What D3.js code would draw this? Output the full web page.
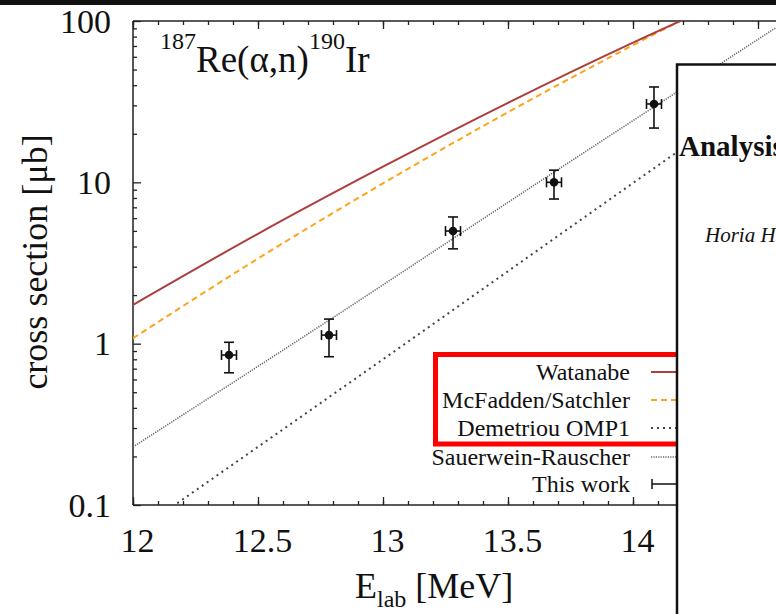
<!DOCTYPE html>
<meta charset="utf-8">
<style>
body {margin: 0; background: #fff;}
text {font-family: "Liberation Serif", "Times New Roman", serif; fill: #111;}
.frame {fill: none; stroke: #222; stroke-width: 1.5;}
.tick line {stroke: #222; stroke-width: 1.3;}
.domain {display: none;}
</style>
<body>
<script src="https://d3js.org/d3.v7.min.js"></script>
<div id="chart"></div>
</body>
<script>
// values
var xTicks = [12, 12.5, 13, 13.5, 14, 14.5, 15];
var xTickLabels = ["12", "12.5", "13", "13.5", "14", "", ""];   // the last ones sit under the window
var yTicks = [0.1, 1, 10, 100];
var yTickLabels = ["0.1", "1", "10", "100"];

var watanabeE = [12.0, 12.5, 13.0, 13.5, 14.0, 14.5];
var watanabeS = [1.74, 4.8, 12.5, 31.1, 73.4, 164];
var mcfaddenE = [12.0, 12.5, 13.0, 13.5, 14.0, 14.5];
var mcfaddenS = [1.08, 3.37, 9.85, 27.2, 70.8, 174];
var demetriouE = [12.0, 13.0, 14.0, 14.6];
var demetriouS = [0.066, 0.8, 9.9, 44.5];
var sauerweinE = [12.0, 12.8, 13.6, 14.6];
var sauerweinS = [0.229, 1.45, 9.5, 97];

// this work: energy, cross section, lower, upper
var dataE   = [12.384, 12.784, 13.28, 13.684, 14.084];
var dataS   = [0.85, 1.13, 4.99, 10.0, 30.6];
var dataLo  = [0.66, 0.83, 3.87, 7.88, 21.7];
var dataHi  = [1.02, 1.42, 6.1, 11.9, 39.0];
var dataDE  = [0.03, 0.03, 0.03, 0.03, 0.03];

var legendNames = ["Watanabe", "McFadden/Satchler", "Demetriou OMP1", "Sauerwein-Rauscher", "This work"];

// setup
var W = 776, H = 614;
var pLeft = 133, pTop = 21, pBottom = 505;
var x = d3.scaleLinear().domain([12, 15]).range([pLeft, pLeft + 750]);
var y = d3.scaleLog().domain([0.1, 100]).range([pBottom, pTop]);
var serif = '"Liberation Serif", "Times New Roman", serif';

var svg = d3.select("#chart").append("svg")
    .attr("width", W).attr("height", H);

svg.append("clipPath").attr("id", "plotclip")
  .append("rect").attr("x", pLeft).attr("y", pTop)
    .attr("width", 750).attr("height", pBottom - pTop);

// axes (ticks pointing inwards)
var xMinor = d3.range(12, 15.001, 0.1).map(function(d) { return +d.toFixed(1); });
var yMinor = [];
[0.1, 1, 10].forEach(function(dec) {
  for (var k = 2; k <= 9; k++) yMinor.push(dec * k);
});

svg.append("g").attr("transform", "translate(0," + pBottom + ")")
    .call(d3.axisBottom(x).tickValues(xMinor).tickSize(-4).tickFormat(""));
var xAx = svg.append("g").attr("transform", "translate(0," + pBottom + ")")
    .call(d3.axisBottom(x).tickValues(xTicks).tickSize(-8).tickPadding(0)
      .tickFormat(function(d, i) { return xTickLabels[i]; }))
    .attr("font-family", serif).attr("font-size", 34);
xAx.selectAll("text")
    .attr("y", 47).attr("dy", 0).attr("dx", 4).attr("fill", "#111");

svg.append("g").attr("transform", "translate(0," + pTop + ")")
    .call(d3.axisTop(x).tickValues(xMinor).tickSize(-4).tickFormat(""));
svg.append("g").attr("transform", "translate(0," + pTop + ")")
    .call(d3.axisTop(x).tickValues(xTicks).tickSize(-8).tickFormat(""));

svg.append("g").attr("transform", "translate(" + pLeft + ",0)")
    .call(d3.axisLeft(y).tickValues(yMinor).tickSize(-4).tickFormat(""));
var yAx = svg.append("g").attr("transform", "translate(" + pLeft + ",0)")
    .call(d3.axisLeft(y).tickValues(yTicks).tickSize(-8).tickPadding(22)
      .tickFormat(function(d, i) { return yTickLabels[i]; }))
    .attr("font-family", serif).attr("font-size", 34);
yAx.selectAll("text").attr("dy", 11).attr("fill", "#111");

// frame
svg.append("line").attr("class", "frame").attr("x1", pLeft).attr("x2", W).attr("y1", pTop).attr("y2", pTop);
svg.append("line").attr("class", "frame").attr("x1", pLeft).attr("x2", W).attr("y1", pBottom).attr("y2", pBottom);
svg.append("line").attr("class", "frame").attr("x1", pLeft).attr("x2", pLeft).attr("y1", pTop).attr("y2", pBottom);

// curves
var line = d3.line()
    .curve(d3.curveMonotoneX)
    .x(function(d) { return x(d[0]); })
    .y(function(d) { return y(d[1]); });
var plot = svg.append("g").attr("clip-path", "url(#plotclip)");

function curve(E, S, color, width, dash) {
  plot.append("path")
    .datum(d3.zip(E, S))
    .attr("d", line)
    .attr("fill", "none")
    .attr("stroke", color)
    .attr("stroke-width", width)
    .attr("stroke-dasharray", dash);
}
curve(sauerweinE, sauerweinS, "#666", 1.6, "1.2,1.2");
curve(demetriouE, demetriouS, "#444", 2, "2,4");
curve(mcfaddenE, mcfaddenS, "#ffa31a", 2, "6,4");
curve(watanabeE, watanabeS, "#ad3e3e", 2, null);

// data points with error bars
var pts = plot.selectAll(".pt").data(dataE).enter().append("g").attr("class", "pt");
pts.append("line")
    .attr("x1", function(d) { return x(d); }).attr("x2", function(d) { return x(d); })
    .attr("y1", function(d, i) { return y(dataLo[i]); })
    .attr("y2", function(d, i) { return y(dataHi[i]); });
pts.append("line")
    .attr("x1", function(d) { return x(d) - 5; }).attr("x2", function(d) { return x(d) + 5; })
    .attr("y1", function(d, i) { return y(dataLo[i]); })
    .attr("y2", function(d, i) { return y(dataLo[i]); });
pts.append("line")
    .attr("x1", function(d) { return x(d) - 5; }).attr("x2", function(d) { return x(d) + 5; })
    .attr("y1", function(d, i) { return y(dataHi[i]); })
    .attr("y2", function(d, i) { return y(dataHi[i]); });
pts.append("line")
    .attr("x1", function(d, i) { return x(d - dataDE[i]); })
    .attr("x2", function(d, i) { return x(d + dataDE[i]); })
    .attr("y1", function(d, i) { return y(dataS[i]); })
    .attr("y2", function(d, i) { return y(dataS[i]); });
[-1, 1].forEach(function(sgn) {
  pts.append("line")
    .attr("x1", function(d, i) { return x(d + sgn * dataDE[i]); })
    .attr("x2", function(d, i) { return x(d + sgn * dataDE[i]); })
    .attr("y1", function(d, i) { return y(dataS[i]) - 5; })
    .attr("y2", function(d, i) { return y(dataS[i]) + 5; });
});
pts.selectAll("line").attr("stroke", "#111").attr("stroke-width", 1.6);
pts.append("circle")
    .attr("cx", function(d) { return x(d); })
    .attr("cy", function(d, i) { return y(dataS[i]); })
    .attr("r", 4.3).attr("fill", "#111");

// title
var title = svg.append("text").attr("x", 160).attr("y", 72).style("font-size", "37px");
title.append("tspan").style("font-size", "24px").attr("dy", -23).text("187");
title.append("tspan").attr("dy", 23).text("Re(α,n)");
title.append("tspan").style("font-size", "24px").attr("dy", -23).text("190");
title.append("tspan").attr("dy", 23).text("Ir");

// axis titles
var xt = svg.append("text").attr("x", 355).attr("y", 598).style("font-size", "36px");
xt.append("tspan").text("E");
xt.append("tspan").style("font-size", "24px").attr("dy", 9).text("lab");
xt.append("tspan").attr("dy", -9).text(" [MeV]");

svg.append("text")
    .attr("transform", "translate(47,262) rotate(-90)")
    .attr("text-anchor", "middle")
    .style("font-size", "36px")
    .text("cross section [μb]");

// legend
var legY = [372, 400, 428, 457, 484];
var legStyles = [
  {c: "#ad3e3e", w: 2, d: null},
  {c: "#ffa31a", w: 2, d: "6,4"},
  {c: "#444", w: 2, d: "2,4"},
  {c: "#666", w: 1.6, d: "1.2,1.2"}
];
var leg = svg.append("g");
legendNames.forEach(function(name, i) {
  leg.append("text")
    .attr("x", 630).attr("y", legY[i] + 8)
    .attr("text-anchor", "end")
    .style("font-size", "24px")
    .text(name);
  if (i < 4) {
    leg.append("line")
      .attr("x1", 651).attr("x2", 700)
      .attr("y1", legY[i]).attr("y2", legY[i])
      .attr("stroke", legStyles[i].c).attr("stroke-width", legStyles[i].w)
      .attr("stroke-dasharray", legStyles[i].d);
  } else {
    leg.append("line").attr("x1", 652).attr("x2", 700)
      .attr("y1", legY[i]).attr("y2", legY[i]).attr("stroke", "#111").attr("stroke-width", 1.5);
    leg.append("line").attr("x1", 652).attr("x2", 652)
      .attr("y1", legY[i] - 5).attr("y2", legY[i] + 5).attr("stroke", "#111").attr("stroke-width", 1.5);
  }
});

// red highlight box
svg.append("rect")
    .attr("x", 435.5).attr("y", 354.5).attr("width", 300).attr("height", 89.5)
    .attr("fill", "none").attr("stroke", "#ff0000").attr("stroke-width", 5);

// overlapping document window
svg.append("rect")
    .attr("x", 677).attr("y", 64.5).attr("width", 120).attr("height", 580)
    .attr("fill", "#fff").attr("stroke", "#111").attr("stroke-width", 2.5);
svg.append("text").attr("x", 679).attr("y", 156)
    .style("font-size", "29px").style("font-weight", "bold").text("Analysis");
svg.append("text").attr("x", 705).attr("y", 242)
    .style("font-size", "21px").style("font-style", "italic").text("Horia H");

// black bar at the very top
svg.append("rect").attr("x", 0).attr("y", 0).attr("width", W).attr("height", 5).attr("fill", "#111");
</script>
